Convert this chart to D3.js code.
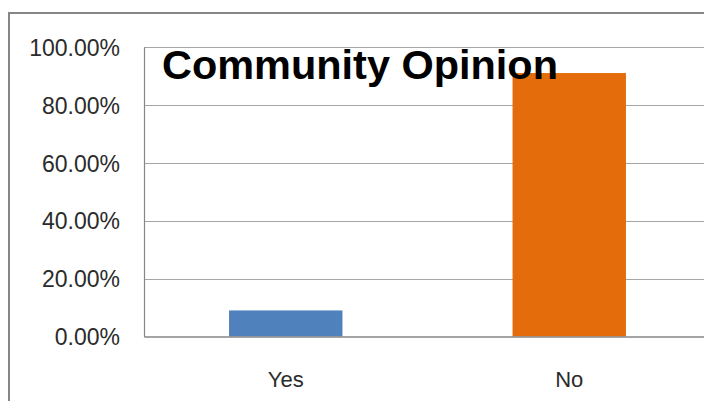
<!DOCTYPE html>
<html>
<head>
<meta charset="utf-8">
<script src="https://cdn.jsdelivr.net/npm/d3@7"></script>
<style>
  html, body { margin: 0; padding: 0; background: #fff; }
  svg { display: block; }
</style>
</head>
<body>
<svg id="chart" width="704" height="401"></svg>
<script>
// Survey answers and their shares
const categories = ["Yes", "No"];
const shares = [0.09, 0.91];
const barColors = ["#4F81BD", "#E46C0A"];
const yTicks = [0, 0.2, 0.4, 0.6, 0.8, 1.0];
const chartTitle = "Community Opinion";

const svg = d3.select("#chart");
const W = 704, H = 401;

// Plot area bounds
const plot = { left: 144, right: 711, top: 47, bottom: 336.5 };

const x = d3.scaleBand()
  .domain(categories)
  .range([plot.left, plot.right])
  .paddingInner(0.6)
  .paddingOuter(0.3);

const y = d3.scaleLinear()
  .domain([0, 1])
  .range([plot.bottom, plot.top]);

// Outer chart frame
svg.append("rect")
  .attr("x", 9).attr("y", 13)
  .attr("width", W + 20).attr("height", H + 20)
  .attr("fill", "#fff")
  .attr("stroke", "#868686")
  .attr("stroke-width", 2);

// Horizontal gridlines
svg.append("g")
  .selectAll("line")
  .data(yTicks.filter(d => d > 0))
  .join("line")
  .attr("x1", plot.left).attr("x2", plot.right)
  .attr("y1", d => Math.round(y(d)) + 0.5)
  .attr("y2", d => Math.round(y(d)) + 0.5)
  .attr("stroke", "#a6a6a6")
  .attr("stroke-width", 1.2);

// Bars
svg.append("g")
  .selectAll("rect")
  .data(categories.map((c, i) => ({ c, v: shares[i], color: barColors[i] })))
  .join("rect")
  .attr("x", d => x(d.c))
  .attr("width", x.bandwidth())
  .attr("y", d => y(d.v))
  .attr("height", d => y(0) - y(d.v))
  .attr("fill", d => d.color);

// Y axis (value labels, no tick marks)
const yAxis = d3.axisLeft(y)
  .tickValues(yTicks)
  .tickFormat(d3.format(".2%"))
  .tickSize(0)
  .tickPadding(24);

const gy = svg.append("g")
  .attr("transform", `translate(${plot.left},0)`)
  .call(yAxis);
gy.select(".domain")
  .attr("stroke", "#868686")
  .attr("stroke-width", 1.2);
gy.selectAll("text")
  .attr("fill", "#2b2b2b")
  .style("font-family", "'Liberation Sans', Arial, sans-serif")
  .style("font-size", "23px")
  .attr("dy", "0.36em");

// X axis (category labels, baseline)
const xAxis = d3.axisBottom(x)
  .tickSize(0)
  .tickPadding(0);

const gx = svg.append("g")
  .attr("transform", `translate(0,${plot.bottom})`)
  .call(xAxis);
gx.select(".domain")
  .attr("stroke", "#868686")
  .attr("stroke-width", 1.5);
gx.selectAll("text")
  .attr("fill", "#2b2b2b")
  .style("font-family", "'Liberation Sans', Arial, sans-serif")
  .style("font-size", "22px")
  .attr("dy", null)
  .attr("y", 50.5);

// Title, drawn over the plot
svg.append("text")
  .attr("x", 162)
  .attr("y", 79)
  .attr("textLength", 396)
  .attr("lengthAdjust", "spacingAndGlyphs")
  .style("font-family", "'Liberation Sans', Arial, sans-serif")
  .style("font-weight", "bold")
  .style("font-size", "40px")
  .attr("fill", "#000")
  .text(chartTitle);
</script>
</body>
</html>
